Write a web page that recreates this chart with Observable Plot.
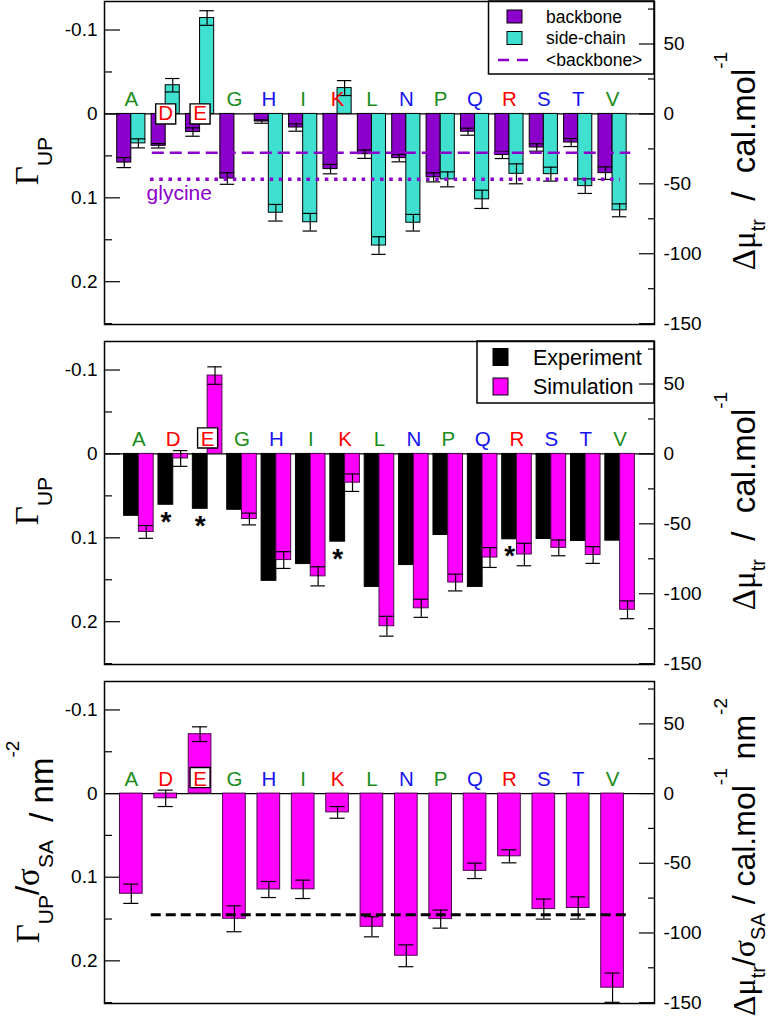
<!DOCTYPE html>
<html><head><meta charset="utf-8">
<script src="https://cdn.jsdelivr.net/npm/d3@7"></script>
<script src="https://cdn.jsdelivr.net/npm/@observablehq/plot@0.6"></script>
<style>body{margin:0;background:#fff;} #chart{width:768px;}</style>
</head><body><div id="chart"></div>
<script>
// ---------- data ----------
const residues = ["A","D","E","G","H","I","K","L","N","P","Q","R","S","T","V"];
const residueClass = ["np","ch","ch","np","po","np","ch","np","po","np","po","ch","po","po","np"];
const classColor = {np: "#1a8c1a", ch: "#ff0000", po: "#1414f0"};

// panel 1: backbone / side-chain preferential interaction
const backbone    = [0.058, 0.038, 0.0216, 0.077, 0.0091, 0.0162, 0.0658, 0.048, 0.0527, 0.0756, 0.0212, 0.049, 0.040, 0.0341, 0.0706];
const backboneErr = [0.006, 0.0026, 0.005, 0.0069, 0.002, 0.0044, 0.0056, 0.005, 0.0044, 0.0054, 0.0042, 0.0042, 0.0044, 0.0048, 0.0075];
const sidechain    = [0.0351, -0.0342, -0.1143, null, 0.1178, 0.1291, -0.0308, 0.1569, 0.1297, 0.078, 0.1018, 0.0714, 0.0718, 0.0861, 0.1149];
const sidechainErr = [0.0054, 0.008, 0.0087, null, 0.0099, 0.0105, 0.0089, 0.0105, 0.0099, 0.0089, 0.0109, 0.0119, 0.0083, 0.0087, 0.0077];
const backboneMean = [{level: 0.0464, from: 0.61, to: 14.53}];
const glycineLevel = [{level: 0.078, from: 0.56, to: 14.23, label: "glycine"}];
const topBoxed = ["D","E"];
const topLegendLabels = ["backbone", "side-chain", "<backbone>"];

// panel 2: experiment vs simulation
const experiment = [0.0738, 0.0606, 0.0654, 0.0666, 0.1513, 0.1313, 0.1046, 0.1585, 0.1325, 0.0966, 0.1585, 0.1018, 0.1014, 0.1038, 0.1034];
const simulation    = [0.093, 0.0054, -0.0934, 0.0776, 0.1265, 0.1459, 0.0343, 0.2054, 0.184, 0.1533, 0.1235, 0.1199, 0.112, 0.1205, 0.1858];
const simulationErr = [0.0076, 0.0094, 0.0104, 0.007, 0.010, 0.0114, 0.0104, 0.0118, 0.0108, 0.010, 0.0118, 0.0134, 0.0094, 0.010, 0.0106];
const starred = ["D","E","K","R"];
const midBoxed = ["E"];
const midLegendLabels = ["Experiment", "Simulation"];

// panel 3: per surface area
const perArea    = [0.1198, 0.0057, -0.071, 0.1497, 0.1147, 0.1145, 0.0225, 0.1593, 0.1939, 0.1501, 0.0924, 0.075, 0.1381, 0.1368, 0.2321];
const perAreaErr = [0.0115, 0.0098, 0.0088, 0.0155, 0.0096, 0.011, 0.007, 0.012, 0.0131, 0.0108, 0.0092, 0.0078, 0.012, 0.0133, 0.0175];
const perAreaMean = [{level: 0.145, from: 0.58, to: 14.47}];
const botBoxed = ["E"];

// axes
const leftMajorTicks = [-0.1, 0, 0.1, 0.2];
const leftMinorTicks = [-0.05, 0.05, 0.15, 0.25];
const rightMajorTicks = [50, 0, -50, -100, -150];
const rightMinorTicks = [75, 25, -25, -75, -125];
const energyPerGamma = -600;   // right axis = -600 × left axis

// ---------- styling ----------
const FONT = "'Liberation Sans', Arial, Helvetica, sans-serif";
const SERIF = "'Liberation Serif', 'Times New Roman', serif";
const PURPLE = "#8c00cc", TURQ = "#40e0d0", MAGENTA = "#ff00ff";
const yDomain = [-0.134, 0.251];

const toGamma = v => v / energyPerGamma;
const fmtLeft = d => String(+d.toFixed(2));
const fmtRight = d => String(Math.round(d * energyPerGamma) || 0);

function panelAxes() {
  return [
    Plot.axisY({anchor: "left", ticks: leftMajorTicks, tickSize: -16, tickPadding: 23, tickFormat: fmtLeft, fontSize: 19, label: null, strokeWidth: 1.2}),
    Plot.axisY({anchor: "left", ticks: leftMinorTicks, tickSize: -8, fill: "none", label: null, strokeWidth: 1.2}),
    Plot.axisY({anchor: "right", ticks: rightMajorTicks.map(toGamma), tickSize: -16, tickPadding: 25, tickFormat: fmtRight, fontSize: 19, label: null, strokeWidth: 1.2}),
    Plot.axisY({anchor: "right", ticks: rightMinorTicks.map(toGamma), tickSize: -7, fill: "none", label: null, strokeWidth: 1.2})
  ];
}

// rotated axis title with sub/superscripts (parts: {t, off, size, serif})
function rotLabel(parts, x, y, size) {
  return () => {
    const t = d3.create("svg:text")
      .attr("transform", `translate(${x},${y}) rotate(-90)`)
      .attr("text-anchor", "middle").attr("font-size", size)
      .attr("font-family", FONT).attr("fill", "black");
    let prev = 0;
    for (const p of parts) {
      const off = p.off || 0;
      const ts = t.append("tspan").attr("dy", off - prev).text(p.t);
      prev = off;
      if (p.size) ts.attr("font-size", p.size);
      if (p.serif) ts.attr("font-family", SERIF);
    }
    return t.node();
  };
}

function legendBox(box, items) {
  return () => {
    const g = d3.create("svg:g").attr("font-family", FONT).attr("text-anchor", "start");
    g.append("rect").attr("x", box.x).attr("y", box.y).attr("width", box.w).attr("height", box.h)
      .attr("fill", "white").attr("stroke", "black").attr("stroke-width", 1.5);
    for (const it of items) {
      if (it.line) {
        g.append("line").attr("x1", it.sx).attr("x2", it.sx + it.sw).attr("y1", it.cy).attr("y2", it.cy)
          .attr("stroke", it.color).attr("stroke-width", 2.5).attr("stroke-dasharray", "11,8");
      } else {
        g.append("rect").attr("x", it.sx).attr("y", it.cy - it.sh / 2).attr("width", it.sw).attr("height", it.sh)
          .attr("fill", it.color).attr("stroke", "black").attr("stroke-width", 1);
      }
      g.append("text").attr("x", it.tx).attr("y", it.cy).attr("dy", "0.35em").attr("text-anchor", "start")
        .attr("font-size", it.fs).attr("fill", "black").text(it.label);
    }
    return g.node();
  };
}

function letterMarks(boxed, boxDy, boxedCentered) {
  const rows = residues.map((r, i) => ({i, r, color: classColor[residueClass[i]], boxed: boxed.includes(r)}));
  const plain = rows.filter(d => !(d.boxed && boxedCentered));
  const centered = rows.filter(d => d.boxed && boxedCentered);
  return [
    Plot.dot(rows.filter(d => d.boxed), {x: "i", y: () => 0, dy: boxDy, symbol: "square", r: 11.3, fill: "white", stroke: "black", strokeWidth: 1.4}),
    Plot.text(plain, {x: "i", y: () => 0, text: "r", fill: "color", dy: -8, lineAnchor: "bottom", fontSize: 20.5, fontFamily: FONT}),
    Plot.text(centered, {x: "i", y: () => 0, text: "r", fill: "color", lineAnchor: "middle", fontSize: 20.5, fontFamily: FONT})
  ];
}

function errorMarks(data, capHalf) {
  return [
    Plot.ruleX(data, {x: "xc", y1: d => d.v - d.e, y2: d => d.v + d.e, stroke: "black", strokeWidth: 1.2}),
    Plot.ruleY(data, {y: d => d.v - d.e, x1: d => d.xc - capHalf, x2: d => d.xc + capHalf, stroke: "black", strokeWidth: 1.2}),
    Plot.ruleY(data, {y: d => d.v + d.e, x1: d => d.xc - capHalf, x2: d => d.xc + capHalf, stroke: "black", strokeWidth: 1.2})
  ];
}

const common = {width: 768, height: 340, marginLeft: 104, marginRight: 114, marginTop: 1,
  color: {type: "identity"}, style: {fontFamily: FONT, background: "white", overflow: "visible"}};

// ---------- panel 1 ----------
const bw1 = 0.41;
const bbBars = residues.map((r, i) => ({x1: i - bw1, x2: i, xc: i - bw1 / 2, v: backbone[i], e: backboneErr[i]}));
const scBars = residues.map((r, i) => ({x1: i, x2: i + bw1, xc: i + bw1 / 2, v: sidechain[i], e: sidechainErr[i]})).filter(d => d.v != null);

const rightLabelTop = [{t: "Δμ", serif: true}, {t: "tr", off: 10, size: 20}, {t: "\u00a0\u00a0/\u00a0\u00a0cal.mol"}, {t: "-1", off: -28, size: 19}];

const p1 = Plot.plot({...common, marginBottom: 16,
  x: {domain: [-0.78, 15.22], axis: null},
  y: {domain: yDomain, reverse: true},
  marks: [
    Plot.ruleY([0], {stroke: "black", strokeWidth: 1.2}),
    Plot.rect(bbBars, {x1: "x1", x2: "x2", y1: () => 0, y2: "v", fill: PURPLE, stroke: "black", strokeWidth: 1}),
    Plot.rect(scBars, {x1: "x1", x2: "x2", y1: () => 0, y2: "v", fill: TURQ, stroke: "black", strokeWidth: 1}),
    ...errorMarks(bbBars, 0.21),
    ...errorMarks(scBars, 0.21),
    Plot.ruleY(backboneMean, {y: "level", x1: "from", x2: "to", stroke: PURPLE, strokeWidth: 2.5, strokeDasharray: "12,6"}),
    Plot.ruleY(glycineLevel, {y: "level", x1: "from", x2: "to", stroke: PURPLE, strokeWidth: 3.5, strokeDasharray: "3.5,5.7"}),
    Plot.text(glycineLevel, {x: "from", y: "level", text: "label", textAnchor: "start", lineAnchor: "bottom", dx: -4, dy: 21, fill: PURPLE, fontSize: 21, fontFamily: FONT}),
    ...letterMarks(topBoxed, 0, true),
    legendBox({x: 488.5, y: 1, w: 165.5, h: 73}, [
      {sx: 507, sw: 15, sh: 13, cy: 16.5, color: PURPLE, tx: 546, fs: 17.5, label: topLegendLabels[0]},
      {sx: 507, sw: 15, sh: 13, cy: 38, color: TURQ, tx: 546, fs: 17.5, label: topLegendLabels[1]},
      {line: true, sx: 498, sw: 30, cy: 60, color: PURPLE, tx: 546, fs: 17.5, label: topLegendLabels[2]}
    ]),
    rotLabel([{t: "Γ", serif: true}, {t: "UP", off: 14, size: 21}], 38, 161, 33),
    rotLabel(rightLabelTop, 755, 161, 33),
    Plot.frame({stroke: "black", strokeWidth: 1.5}),
    ...panelAxes()
  ]
});

// ---------- panel 2 ----------
const bw2 = 0.43;
const expBars = residues.map((r, i) => ({r, x1: i - bw2, x2: i, xc: i - bw2 / 2, v: experiment[i]}));
const simBars = residues.map((r, i) => ({x1: i, x2: i + bw2, xc: i + bw2 / 2, v: simulation[i], e: simulationErr[i]}));

const p2 = Plot.plot({...common, marginBottom: 16,
  x: {domain: [-1.0, 15.0], axis: null},
  y: {domain: yDomain, reverse: true},
  marks: [
    Plot.ruleY([0], {stroke: "black", strokeWidth: 1.2}),
    Plot.rect(expBars, {x1: "x1", x2: "x2", y1: () => 0, y2: "v", fill: "black", stroke: "black", strokeWidth: 1}),
    Plot.rect(simBars, {x1: "x1", x2: "x2", y1: () => 0, y2: "v", fill: MAGENTA, stroke: "#4a0a4a", strokeWidth: 1}),
    ...errorMarks(simBars, 0.21),
    Plot.text(expBars.filter(d => starred.includes(d.r)), {x: "xc", y: "v", text: () => "*", dy: 17, lineAnchor: "middle", fontSize: 28, fontWeight: "bold", fill: "black", fontFamily: FONT}),
    ...letterMarks(midBoxed, -16, false),
    legendBox({x: 477, y: 1, w: 177, h: 62}, [
      {sx: 493, sw: 15, sh: 17, cy: 17, color: "black", tx: 533, fs: 21.5, label: midLegendLabels[0]},
      {sx: 493, sw: 15, sh: 17, cy: 46.5, color: MAGENTA, tx: 533, fs: 21.5, label: midLegendLabels[1]}
    ]),
    rotLabel([{t: "Γ", serif: true}, {t: "UP", off: 14, size: 21}], 38, 161, 33),
    rotLabel(rightLabelTop, 755, 161, 33),
    Plot.frame({stroke: "black", strokeWidth: 1.5}),
    ...panelAxes()
  ]
});

// ---------- panel 3 ----------
const bw3 = 0.33;
const areaBars = residues.map((r, i) => ({x1: i - bw3, x2: i + bw3, xc: i, v: perArea[i], e: perAreaErr[i]}));

const p3 = Plot.plot({...common, marginBottom: 17,
  x: {domain: [-0.78, 15.22], axis: null},
  y: {domain: yDomain, reverse: true},
  marks: [
    Plot.ruleY([0], {stroke: "black", strokeWidth: 1.2}),
    Plot.rect(areaBars, {x1: "x1", x2: "x2", y1: () => 0, y2: "v", fill: MAGENTA, stroke: "#4a0a4a", strokeWidth: 1}),
    ...errorMarks(areaBars, 0.22),
    Plot.ruleY(perAreaMean, {y: "level", x1: "from", x2: "to", stroke: "black", strokeWidth: 3, strokeDasharray: "10,5"}),
    ...letterMarks(botBoxed, -16, false),
    rotLabel([{t: "Γ", serif: true}, {t: "UP", off: 14, size: 21}, {t: "/"}, {t: "σ", serif: true}, {t: "SA", off: 14, size: 21},
              {t: "\u00a0\u00a0/\u00a0nm", off: 14}, {t: "-2", off: -20, size: 19}], 39, 162, 33),
    rotLabel([{t: "Δμ", serif: true}, {t: "tr", off: 10, size: 20}, {t: "/"}, {t: "σ", serif: true}, {t: "SA", off: 10, size: 20},
              {t: "\u00a0/\u00a0cal.mol"}, {t: "-1", off: -28, size: 19}, {t: "\u00a0nm"}, {t: "-2", off: -28, size: 19}], 755, 177, 32),
    Plot.frame({stroke: "black", strokeWidth: 1.5}),
    ...panelAxes()
  ]
});

const chart = document.getElementById("chart");
chart.append(p1, p2, p3);
</script>
</body></html>
